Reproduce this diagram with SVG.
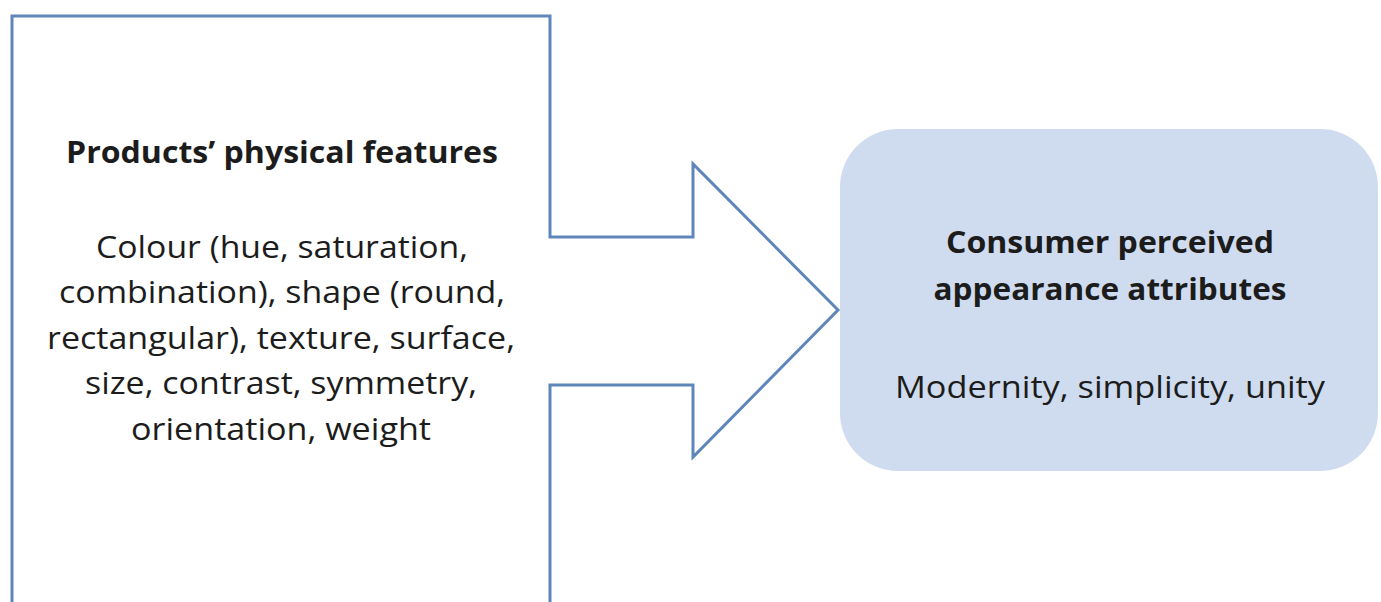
<svg xmlns="http://www.w3.org/2000/svg" width="1381" height="602" viewBox="0 0 1381 602">
<style>
.t{font-family:"Open Sans","Liberation Sans",sans-serif;fill:#1c1c1c;text-anchor:middle}
.b{font-weight:bold}
.s{font-size:31px}
</style>
<rect width="1381" height="602" fill="#ffffff"/>
<g id="physical-features">
<path d="M12 610 L12 16 L550 16 L550 237 L693 237 L693 164 L838 310 L693 457 L693 385 L550 385 L550 610" fill="#ffffff" stroke="#5f86ba" stroke-width="3" stroke-linejoin="miter"/>
<text class="t b s" x="282" y="163" textLength="432" lengthAdjust="spacingAndGlyphs">Products’ physical features</text>
<text class="t s" x="282" y="258" textLength="372" lengthAdjust="spacingAndGlyphs">Colour (hue, saturation,</text>
<text class="t s" x="282" y="303" textLength="446" lengthAdjust="spacingAndGlyphs">combination), shape (round,</text>
<text class="t s" x="281" y="349" textLength="468" lengthAdjust="spacingAndGlyphs">rectangular), texture, surface,</text>
<text class="t s" x="281" y="394" textLength="392" lengthAdjust="spacingAndGlyphs">size, contrast, symmetry,</text>
<text class="t s" x="281" y="440" textLength="300" lengthAdjust="spacingAndGlyphs">orientation, weight</text>
</g>
<g id="appearance-attributes">
<rect x="840" y="129" width="538" height="342" rx="58" ry="58" fill="#cfdcef"/>
<text class="t b s" x="1110" y="253" textLength="328" lengthAdjust="spacingAndGlyphs">Consumer perceived</text>
<text class="t b s" x="1110" y="300" textLength="353" lengthAdjust="spacingAndGlyphs">appearance attributes</text>
<text class="t s" x="1110" y="398" textLength="430" lengthAdjust="spacingAndGlyphs">Modernity, simplicity, unity</text>
</g>
<g id="connectors"></g>
</svg>
